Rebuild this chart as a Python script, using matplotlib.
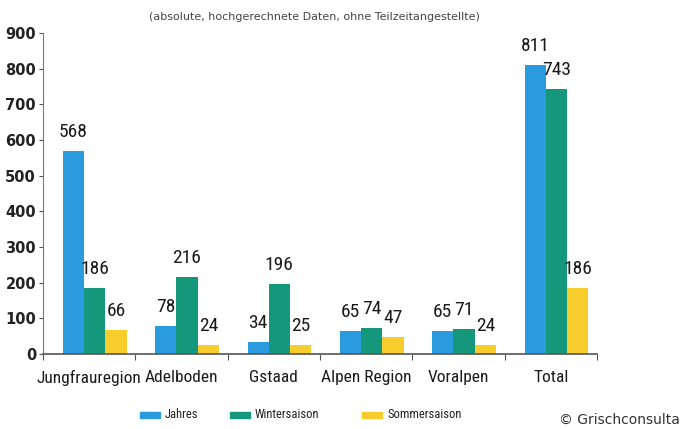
import matplotlib.pyplot as plt
import numpy as np
from matplotlib.patches import Rectangle

regions = ["Jungfrauregion", "Adelboden", "Gstaad", "Alpen Region", "Voralpen", "Total"]
jahres = [568, 78, 34, 65, 65, 811]
winter = [186, 216, 196, 74, 71, 743]
sommer = [66, 24, 25, 47, 24, 186]
series_names = ["Jahres", "Wintersaison", "Sommersaison"]
colors = ["#2b9be0", "#14977a", "#f6cd2c"]

cond = dict(family=["Roboto Condensed", "Roboto", "DejaVu Sans"])


def main():
    fig = plt.figure(figsize=(6.82, 4.29), dpi=100)
    ax = fig.add_axes([43 / 682, 75 / 429, 554 / 682, 321 / 429])

    x = np.arange(len(regions))
    w = 0.23
    for i, (vals, c) in enumerate(zip([jahres, winter, sommer], colors)):
        pos = x + 0.06 + (i - 1) * w
        ax.bar(pos, vals, width=w, color=c, edgecolor="none")
        for p, v in zip(pos, vals):
            ax.text(p, v + 28, str(v), ha="center", va="bottom",
                    fontsize=14, color="#1a1a1a", **cond)

    ax.set_xlim(-0.5, len(regions) - 0.5)
    ax.set_ylim(0, 900)
    ax.set_yticks(range(0, 901, 100))
    ax.tick_params(axis="y", labelsize=10.5, length=3, color="#555555",
                   colors="#222222", pad=2)
    for t in ax.get_yticklabels():
        t.set_fontweight("bold")

    ax.set_xticks(np.arange(len(regions) + 1) - 0.5)
    ax.set_xticklabels([])
    ax.tick_params(axis="x", length=4, color="#555555")
    for xi, name in zip(x, regions):
        ax.text(xi, -46, name, ha="center", va="top", fontsize=12.5,
                color="#1a1a1a", **cond)

    for s in ["top", "right"]:
        ax.spines[s].set_visible(False)
    ax.spines["left"].set_color("#777777")
    ax.spines["bottom"].set_color("#555555")
    ax.spines["bottom"].set_linewidth(1.2)

    fig.text(314 / 682, 1 - 17 / 429,
             "(absolute, hochgerechnete Daten, ohne Teilzeitangestellte)",
             ha="center", va="center", fontsize=8, color="#444444")

    # legend placed by hand to match the spacing of the original
    for name, c, px in zip(series_names, colors, [140, 230, 362]):
        fig.add_artist(Rectangle((px / 682, 1 - 418 / 429), 20 / 682, 6 / 429,
                                 color=c, transform=fig.transFigure))
        fig.text((px + 25) / 682, 1 - 414 / 429, name, ha="left",
                 va="center", fontsize=9, color="#222222", **cond)

    fig.text(680 / 682, 1 - 420 / 429, "© Grischconsulta", ha="right",
             va="center", fontsize=10, color="#333333")

    fig.savefig("out.png", dpi=100)


if __name__ == "__main__":
    main()
